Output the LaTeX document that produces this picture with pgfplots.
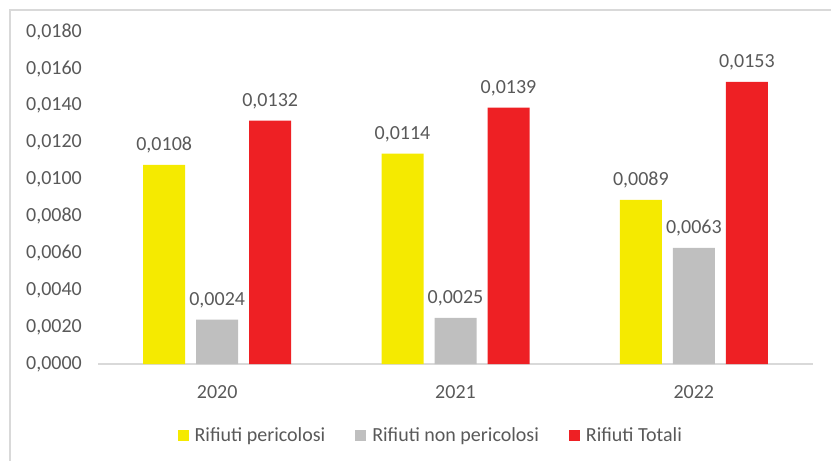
\documentclass[border=0pt]{standalone}
\usepackage{pgfplots}
\pgfplotsset{compat=1.18}
\usepackage{fontspec}
\setmainfont{Carlito}
\definecolor{txt}{HTML}{595959}
\definecolor{axl}{HTML}{D9D9D9}
\definecolor{cyel}{HTML}{F5EA00}
\definecolor{cgry}{HTML}{BFBFBF}
\definecolor{cred}{HTML}{EE2024}
\begin{document}
\begin{tikzpicture}
\path[use as bounding box] (0,0) rectangle (831bp,461bp);
\draw[axl, line width=1.5bp] (10bp,0bp) -- (10bp,451bp) -- (831bp,451bp);
\begin{axis}[
  at={(98bp,97bp)}, anchor=south west,
  scale only axis, width=715bp, height=332bp,
  xmin=-0.5, xmax=2.5, ymin=0, ymax=0.018,
  ybar=11bp, bar width=42bp,
  axis x line*=bottom, axis y line*=left,
  x axis line style={draw=axl, line width=1.2bp, -},
  y axis line style={draw=none},
  major tick length=0pt, tick style={draw=none},
  xtick=data, xticklabels={2020,2021,2022},
  ytick={0,0.002,0.004,0.006,0.008,0.010,0.012,0.014,0.016,0.018},
  scaled y ticks=false,
  /pgf/number format/assume math mode=true,
  yticklabel={\pgfmathprintnumber[fixed, fixed zerofill, precision=4, use comma, assume math mode=true]{\tick}},
  ticklabel style={font=\fontsize{20bp}{24bp}\selectfont, text=txt, inner sep=0pt},
  yticklabel style={anchor=east, xshift=-16bp},
  xticklabel style={anchor=north, yshift=-21bp},
  nodes near coords={\pgfmathprintnumber[fixed, fixed zerofill, precision=4, use comma, assume math mode=true]{\pgfplotspointmeta}},
  every node near coord/.append style={font=\fontsize{20bp}{24bp}\selectfont, text=txt, anchor=base, yshift=14bp, inner sep=0pt},
  legend columns=3,
  legend style={draw=none, fill=none, at={([yshift=-71bp]axis description cs:0.464,0)}, anchor=center,
    font=\fontsize{20bp}{24bp}\selectfont, text=txt,
    nodes={inner sep=0pt, text=txt},
    /tikz/every odd column/.append style={column sep=6bp},
    /tikz/every even column/.append style={column sep=30bp}},
  legend image code/.code={\fill[#1] (0bp,-5.5bp) rectangle (11bp,5.5bp);},
  clip=false,
]
\addplot[fill=cyel, draw=none] coordinates {(0,0.0108) (1,0.0114) (2,0.0089)};
\addplot[fill=cgry, draw=none] coordinates {(0,0.0024) (1,0.0025) (2,0.0063)};
\addplot[fill=cred, draw=none] coordinates {(0,0.0132) (1,0.0139) (2,0.0153)};
\legend{Rifiuti pericolosi, Rifiuti non pericolosi, Rifiuti Totali}
\end{axis}
\end{tikzpicture}
\end{document}
